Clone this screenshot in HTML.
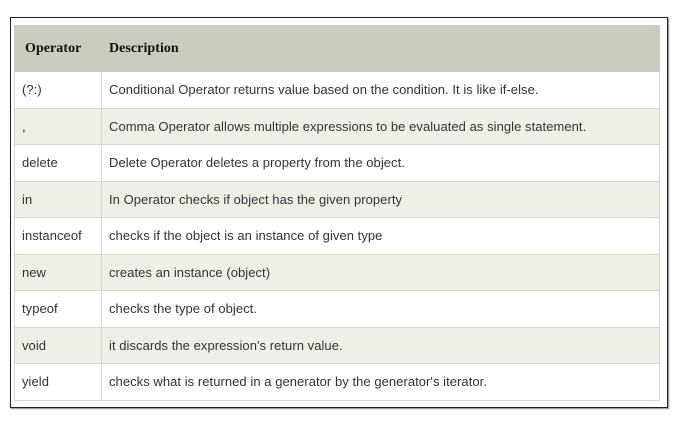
<!DOCTYPE html>
<html><head><style>
body{margin:0;width:687px;height:430px;background:#fff;position:relative;overflow:hidden}
.frame{position:absolute;left:10px;top:17px;width:656px;height:389px;border:1px solid #222;box-shadow:1px 1px 1px #888}
.t{position:absolute;left:14px;top:25px;width:646px;border-collapse:collapse;font-family:"Liberation Sans",sans-serif;font-size:13px;letter-spacing:0.05px;color:#333}
.t td,.t th{border:1px solid #d6d8d0;padding:0 0 0 7px;text-align:left;height:35.5px;white-space:nowrap}
.t th{background:#c9ccbf;height:45px;font-family:"Liberation Serif",serif;font-size:14px;color:#111;border-color:#c9ccbf}
.t th:first-child{padding-left:10px}
.t tr:nth-child(odd) td{background:#eef0e8}
.t td:first-child{width:79px}
</style></head><body>
<div class="frame"></div>
<table class="t">
<tr><th>Operator</th><th>Description</th></tr>
<tr><td>(?:)</td><td>Conditional Operator returns value based on the condition. It is like if-else.</td></tr>
<tr><td>,</td><td>Comma Operator allows multiple expressions to be evaluated as single statement.</td></tr>
<tr><td>delete</td><td>Delete Operator deletes a property from the object.</td></tr>
<tr><td>in</td><td>In Operator checks if object has the given property</td></tr>
<tr><td>instanceof</td><td>checks if the object is an instance of given type</td></tr>
<tr><td>new</td><td>creates an instance (object)</td></tr>
<tr><td>typeof</td><td>checks the type of object.</td></tr>
<tr><td>void</td><td>it discards the expression's return value.</td></tr>
<tr><td>yield</td><td>checks what is returned in a generator by the generator's iterator.</td></tr>
</table>
</body></html>
